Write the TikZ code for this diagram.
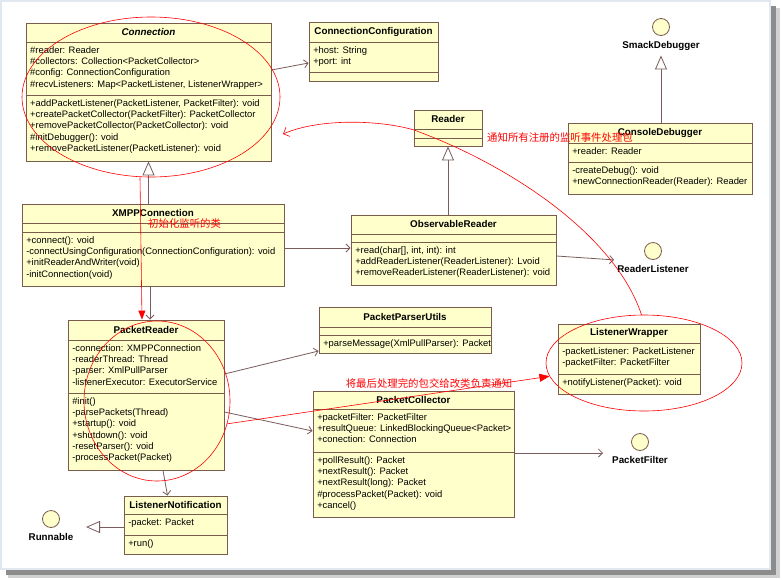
\documentclass[tikz,border=0pt]{standalone}
\usepackage{fontspec}
\setmainfont{Liberation Sans}
\newfontfamily\cjk{Noto Sans CJK SC}
\usepackage{tikz}
\usetikzlibrary{
  positioning,
  arrows.meta,
  calc,
  fit,
  shapes.geometric
}
\definecolor{umlfill}{RGB}{255,255,204}
\definecolor{umlborder}{RGB}{122,92,76}
\definecolor{umlline}{RGB}{122,92,92}
\definecolor{noteRed}{RGB}{255,0,0}
\definecolor{frameBlue}{RGB}{226,232,240}

% 类框: 名字, 左上, 右下, 分隔线1, 分隔线2, 类名, 属性, 方法
\newcommand{\umlclass}[8]{%
  \node[classbox, fit={(#2) (#3)}] (#1) {};
  \draw[classline] (#1.west |- 0,#4) -- (#1.east |- 0,#4);
  \draw[classline] (#1.west |- 0,#5) -- (#1.east |- 0,#5);
  \node[classtitle] at ($(#1.north)!0.5!(#1.north |- 0,#4)$) {#6};
  \node[members] at (#1.west |- 0,#4) {#7};
  \node[members] at (#1.west |- 0,#5) {#8};
}

\begin{document}
\begin{tikzpicture}[
    x=1pt, y=-1pt,
    classbox/.style={draw=umlborder, fill=umlfill, line width=0.9pt, inner sep=0pt},
    classline/.style={draw=umlborder, line width=0.9pt},
    classtitle/.style={font=\fontsize{9.8}{11}\selectfont\bfseries, inner sep=0pt},
    members/.style={anchor=north west, align=left, inner xsep=4.5pt, inner ysep=4.5pt,
                    font=\fontsize{9.4}{11.2}\selectfont},
    iface/.style={circle, draw=umlborder, fill=umlfill, minimum size=17pt, inner sep=0pt, line width=0.8pt},
    ifacelabel/.style={font=\fontsize{9.8}{11}\selectfont\bfseries, inner sep=1pt},
    assoc/.style={draw=umlline, line width=0.8pt, -{Straight Barb[length=4pt,width=8pt]}},
    generalize/.style={draw=umlline, line width=0.8pt, -{Triangle[length=14pt,width=12pt,fill=white]}},
    ring/.style={ellipse, draw=noteRed, line width=0.6pt, inner sep=0pt},
    note/.style={draw=noteRed, line width=0.6pt},
    notetext/.style={text=noteRed, font=\cjk\fontsize{10.4}{12}\selectfont, inner sep=0pt}
]
    \useasboundingbox (0,0) rectangle (782,579);

    % 背景与阴影
    \fill[black!18] (8,8) rectangle (780,578);
    \fill[black!45] (6,6) rectangle (776,575);
    \filldraw[fill=white, draw=frameBlue, line width=2pt] (1,1) rectangle (770,569);

    % 类
    \umlclass{conn}{26,23}{271,161}{42}{95}{\textit{Connection}}
      {\#reader: Reader\\\#collectors: Collection<PacketCollector>\\\#config: ConnectionConfiguration\\\#recvListeners: Map<PacketListener, ListenerWrapper>}
      {+addPacketListener(PacketListener, PacketFilter): void\\+createPacketCollector(PacketFilter): PacketCollector\\+removePacketCollector(PacketCollector): void\\\#initDebugger(): void\\+removePacketListener(PacketListener): void}
    \umlclass{cfg}{309,22}{438,81}{42}{72}{ConnectionConfiguration}
      {+host: String\\+port: int}{}
    \umlclass{reader}{414,110}{482,146}{129}{138}{Reader}{}{}
    \umlclass{console}{568,123}{752,194}{143}{162}{ConsoleDebugger}
      {+reader: Reader}
      {-createDebug(): void\\+newConnectionReader(Reader): Reader}
    \umlclass{xmpp}{22,204}{284,286}{223}{232}{XMPPConnection}{}
      {+connect(): void\\-connectUsingConfiguration(ConnectionConfiguration): void\\+initReaderAndWriter(void)\\-initConnection(void)}
    \umlclass{obs}{351,215}{556,285}{234}{242}{ObservableReader}{}
      {+read(char[], int, int): int\\+addReaderListener(ReaderListener): Lvoid\\+removeReaderListener(ReaderListener): void}
    \umlclass{pr}{68,320}{224,470}{340}{393}{PacketReader}
      {-connection: XMPPConnection\\-readerThread: Thread\\-parser: XmlPullParser\\-listenerExecutor: ExecutorService}
      {\#init()\\-parsePackets(Thread)\\+startup(): void\\+shutdown(): void\\-resetParser(): void\\-processPacket(Packet)}
    \umlclass{ppu}{319,307}{491,353}{327}{335}{PacketParserUtils}{}
      {+parseMessage(XmlPullParser): Packet}
    \umlclass{lw}{558,324}{700,394}{343}{374}{ListenerWrapper}
      {-packetListener: PacketListener\\-packetFilter: PacketFilter}
      {+notifyListener(Packet): void}
    \umlclass{pc}{313,391}{514,517}{409}{452}{PacketCollector}
      {+packetFilter: PacketFilter\\+resultQueue: LinkedBlockingQueue<Packet>\\+conection: Connection}
      {+pollResult(): Packet\\+nextResult(): Packet\\+nextResult(long): Packet\\\#processPacket(Packet): void\\+cancel()}
    \umlclass{ln}{124,496}{227,554}{514}{535}{ListenerNotification}
      {-packet: Packet}{+run()}

    % 接口
    \node[iface] (smack) at (661,27) {};
    \node[ifacelabel, below=4pt of smack] (smack-label) {SmackDebugger};
    \node[iface] (rl) at (653,251) {};
    \node[ifacelabel, below=4pt of rl] (rl-label) {ReaderListener};
    \node[iface] (pf) at (640,442) {};
    \node[ifacelabel, below=4pt of pf] (pf-label) {PacketFilter};
    \node[iface] (run) at (51,519) {};
    \node[ifacelabel, below=4pt of run] (run-label) {Runnable};
    \coordinate (pf-in) at (603,453);
    \coordinate (run-in) at (86,527);

    % 连线
    \draw[assoc] (conn.east |- 0,70) -- (cfg.west |- 0,63);
    \draw[generalize] (conn.south |- xmpp.north) -- (conn.south);
    \draw[assoc] (xmpp.east |- 0,248) -- (obs.west |- 0,248);
    \draw[generalize] (reader.south |- obs.north) -- (reader.south);
    \draw[assoc] (obs.east |- 0,256) -- ([shift={(-2pt,4pt)}]rl-label.north west);
    \draw[generalize] (smack-label.south |- console.north) -- ([yshift=-4pt]smack-label.south);
    \draw[assoc] ([xshift=4pt]pr.north |- xmpp.south) -- ([xshift=4pt]pr.north);
    \draw[assoc] (pr.east |- 0,374) -- (ppu.west |- 0,351);
    \draw[assoc] (pr.east |- 0,412) -- (pc.west |- 0,431);
    \draw[assoc] (pc.east |- 0,453) -- (pf-in);
    \draw[assoc] ([xshift=17pt]pr.south) -- ([xshift=-8pt]ln.north);
    \draw[generalize] (ln.west |- 0,527) -- (run-in);

    % 红色批注
    \node[ring, minimum width=258pt, minimum height=160pt] (conn-ring) at (151,97) {};
    \node[ring, minimum width=146pt, minimum height=160pt] (pr-ring) at (157,401) {};
    \node[ring, minimum width=196pt, minimum height=96pt] (lw-ring) at (644,363) {};

    \draw[note, {Straight Barb[length=5pt,width=10pt]}-] (283,134)
        .. controls (320,118) and (380,120) .. (414,130)
        .. controls (510,165) and (615,235) .. (lw-ring.93);
    \draw[note, -{Triangle[length=9pt,width=7pt]}] (conn-ring.south -| 140,0) -- ([xshift=-4pt]pr.north);
    \draw[note, -{Triangle[length=10pt,width=8pt]}] (pr-ring.-18) -- (lw-ring.188);

    \node[notetext, anchor=west] (note-notify) at (487,138) {通知所有注册的监听事件处理包};
    \node[notetext, anchor=west] (note-init) at (148,224) {初始化监听的类};
    \node[notetext] (note-hand) at (429,384) {将最后处理完的包交给改类负责通知};
\end{tikzpicture}
\end{document}
